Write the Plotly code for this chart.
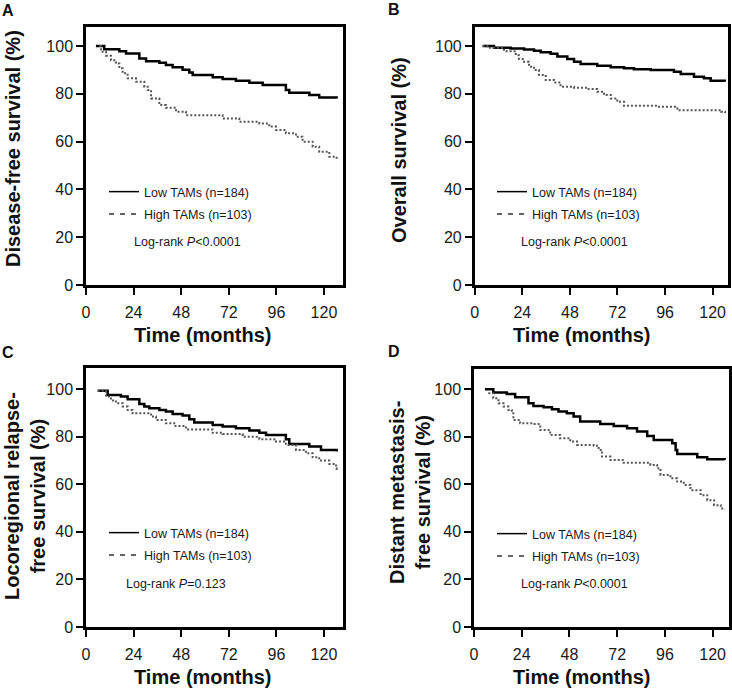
import plotly.graph_objects as go

# ---------------- data ----------------
x_ticks = [0, 24, 48, 72, 96, 120]
y_ticks = [0, 20, 40, 60, 80, 100]

low_label = "Low TAMs (n=184)"
high_label = "High TAMs (n=103)"

panel_letters = ["A", "B", "C", "D"]
y_titles = ["Disease-free survival (%)", "Overall survival (%)",
            "Locoregional relapse-<br>free survival (%)",
            "Distant metastasis-<br>free survival (%)"]
pvalues = ["Log-rank <i>P</i>&lt;0.0001", "Log-rank <i>P</i>&lt;0.0001",
           "Log-rank <i>P</i>=0.123", "Log-rank <i>P</i>&lt;0.0001"]

# Panel A: disease-free survival
a_low_t = [5.0, 9.2, 16.8, 20.2, 26.9, 30.3, 37.0, 40.3, 43.7, 48.7, 52.1, 53.8, 63.9, 68.9,
           75.6, 82.4, 89.1, 100.8, 102.5, 112.6, 117.6, 126.4]
a_low_s = [100, 98.7, 97.9, 96.9, 94.8, 93.7, 93.0, 92.1, 91.2, 90.1, 89.0, 87.9, 87.0, 86.2,
           85.5, 84.7, 83.7, 81.6, 80.5, 79.5, 78.5, 78.1]
a_high_t = [6.7, 7.6, 10.1, 12.6, 15.1, 16.8, 18.5, 21.0, 25.2, 29.4, 31.1, 32.8, 37.0, 40.3,
            45.4, 50.4, 68.9, 77.3, 87.4, 92.4, 95.8, 100.8, 105.9, 109.2, 114.3, 117.6,
            122.7, 126.4]
a_high_s = [100, 97.6, 96.0, 94.1, 92.7, 90.7, 88.6, 86.5, 85.1, 83.0, 81.6, 78.1, 75.3, 74.2,
            72.5, 71.1, 69.7, 68.3, 67.6, 66.3, 64.9, 63.5, 62.1, 60.0, 57.9, 55.8, 53.7, 52.7]

# Panel B: overall survival
b_low_t = [4.0, 9.7, 18.1, 24.9, 29.9, 33.3, 38.3, 41.7, 46.7, 50.1, 53.4, 61.8, 68.6, 75.3,
           80.3, 88.8, 100.5, 103.9, 110.6, 115.6, 119.0, 126.1]
b_low_s = [100, 99.3, 99.0, 98.6, 98.1, 97.4, 96.8, 95.6, 94.6, 93.5, 92.5, 91.8, 91.1, 90.7,
           90.3, 90.0, 89.3, 88.3, 87.2, 86.5, 85.5, 85.1]
b_high_t = [4.0, 6.4, 14.8, 20.7, 22.3, 24.9, 27.4, 29.9, 32.4, 35.8, 40.0, 43.3, 50.1, 56.8,
            61.8, 65.2, 68.6, 71.9, 75.3, 92.3, 102.2, 124.3, 126.3]
b_high_s = [100, 99.3, 97.9, 96.2, 94.6, 93.5, 91.4, 90.0, 87.9, 85.8, 84.8, 83.0, 82.6, 82.0,
            80.9, 79.5, 78.1, 76.7, 75.0, 74.6, 73.2, 72.5, 72.0]

# Panel C: locoregional relapse-free survival
c_low_t = [5.9, 10.9, 17.6, 21.0, 26.9, 29.4, 31.9, 37.0, 40.3, 43.7, 48.7, 52.1, 54.6, 63.9,
           68.9, 75.6, 82.4, 87.4, 90.8, 100.8, 102.5, 112.6, 118.5, 126.4]
c_low_s = [99.2, 97.5, 96.8, 95.7, 93.7, 92.6, 91.9, 91.2, 90.5, 89.5, 88.8, 87.3, 85.9, 84.9,
           84.2, 83.5, 82.5, 81.6, 80.7, 78.9, 76.9, 75.8, 74.4, 73.7]
c_high_t = [5.9, 10.1, 12.6, 15.1, 18.5, 21.0, 23.5, 32.8, 35.3, 40.3, 44.5, 50.4, 63.9, 68.9,
            79.0, 87.4, 95.8, 100.8, 105.9, 110.9, 114.3, 117.6, 122.7, 126.1, 126.4]
c_high_s = [99.2, 96.8, 95.1, 94.0, 92.6, 91.2, 89.8, 88.4, 87.0, 85.6, 84.4, 83.0, 81.6, 81.1,
            79.9, 78.9, 77.9, 76.5, 74.4, 73.0, 71.3, 69.9, 68.5, 66.7, 65.3]

# Panel D: distant metastasis-free survival
d_low_t = [5.5, 9.7, 16.5, 20.7, 27.4, 29.9, 35.0, 39.2, 42.5, 46.7, 50.1, 53.4, 63.5, 70.3,
           77.0, 82.0, 87.1, 90.4, 99.7, 101.4, 102.2, 112.3, 117.3, 126.1]
d_low_s = [99.9, 98.5, 97.9, 96.5, 94.0, 92.9, 92.3, 91.5, 90.5, 89.8, 88.4, 86.3, 85.3, 84.5,
           83.5, 82.1, 80.3, 78.6, 77.2, 74.4, 72.7, 71.3, 70.5, 70.3]
d_high_t = [7.2, 9.7, 12.3, 14.8, 17.3, 19.0, 19.8, 23.2, 29.9, 33.3, 38.3, 43.3, 48.4, 51.8,
            60.2, 62.7, 64.4, 68.6, 75.3, 88.7, 92.1, 93.8, 98.8, 102.2, 105.5, 108.9, 114.0,
            117.3, 120.7, 124.1, 126.1]
d_high_s = [98.2, 96.1, 94.0, 92.6, 91.2, 89.8, 87.0, 85.6, 85.3, 82.8, 80.7, 79.3, 77.9, 76.5,
            76.2, 74.4, 71.6, 70.2, 69.0, 68.1, 66.7, 63.9, 62.5, 61.1, 59.7, 57.5, 55.4, 53.3,
            51.2, 49.8, 49.5]

panels = [
    (a_low_t, a_low_s, a_high_t, a_high_s),
    (b_low_t, b_low_s, b_high_t, b_high_s),
    (c_low_t, c_low_s, c_high_t, c_high_s),
    (d_low_t, d_low_s, d_high_t, d_high_s),
]

# ---------------- layout geometry (pixels) ----------------
W, H = 732, 688
# (left, right, top, bottom) of each plot box, x-range max, y-range max
boxes = [(86, 343, 27, 285, 129.6, 108.0),
         (474.7, 727.7, 27, 285, 127.6, 108.0),
         (86, 343, 368, 627, 129.6, 108.8),
         (474, 728.5, 369, 627, 128.0, 108.4)]
# left edge (px) of the p-value text and legend text per panel
pval_left = [133, 520, 125, 520]
legend_text_left = [144, 532, 144, 532]

FONT = "Liberation Sans, Arial, Helvetica, sans-serif"

fig = go.Figure()
layout = dict(width=W, height=H, margin=dict(l=0, r=0, t=0, b=0, autoexpand=False),
              paper_bgcolor="white", plot_bgcolor="white",
              font=dict(family=FONT, color="#1a1a1a"), showlegend=True)
annotations = []

for i, ((lt, ls, ht, hs), (l, r, t, b, xmax, ymax)) in enumerate(zip(panels, boxes)):
    n = "" if i == 0 else str(i + 1)
    xa, ya = "x" + n, "y" + n
    lg = "legend" + n
    fig.add_trace(go.Scatter(x=lt, y=ls, mode="lines", line_shape="hv",
                             line=dict(color="black", width=2.5),
                             xaxis=xa, yaxis=ya, showlegend=False, hoverinfo="skip"))
    fig.add_trace(go.Scatter(x=ht, y=hs, mode="lines", line_shape="hv",
                             line=dict(color="#555555", width=2, dash="2px,2px"),
                             xaxis=xa, yaxis=ya, showlegend=False, hoverinfo="skip"))
    # legend-only entries
    fig.add_trace(go.Scatter(x=[None], y=[None], mode="lines", name=low_label,
                             line=dict(color="black", width=1.5), legendgroup="low",
                             xaxis=xa, yaxis=ya, legend=lg, showlegend=True))
    fig.add_trace(go.Scatter(x=[None], y=[None], mode="lines", name=high_label,
                             line=dict(color="#333333", width=1.5, dash="5px,6px"),
                             legendgroup="high",
                             xaxis=xa, yaxis=ya, legend=lg, showlegend=True))

    axis_common = dict(showline=True, linewidth=2.5, linecolor="black", mirror=True,
                       ticks="outside", ticklen=7, tickwidth=1.5, tickcolor="black",
                       showgrid=False, zeroline=False,
                       tickfont=dict(family=FONT, size=16, color="#1a1a1a"))
    layout["xaxis" + n] = dict(axis_common, domain=[l / W, r / W], range=[0, xmax],
                               tickvals=x_ticks, anchor=ya, ticklabelstandoff=4)
    layout["yaxis" + n] = dict(axis_common, domain=[1 - b / H, 1 - t / H], range=[0, ymax],
                               tickvals=y_ticks, anchor=xa)

    # legend placement
    leg_top = t + 150
    layout[lg] = dict(x=(legend_text_left[i] - 40) / W, y=1 - leg_top / H,
                      xanchor="left", yanchor="top",
                      bgcolor="rgba(0,0,0,0)", borderwidth=0,
                      font=dict(family=FONT, size=12.5, color="#1a1a1a"),
                      itemwidth=30, traceorder="grouped", tracegroupgap=3)

    # p-value
    annotations.append(dict(text=pvalues[i], xref="paper", yref=ya,
                            x=pval_left[i] / W, y=18.1, xanchor="left", yanchor="middle",
                            showarrow=False, borderpad=0,
                            font=dict(family=FONT, size=12.5, color="#1a1a1a")))

# axis titles & panel letters
xtitle_centers = [(203, 335), (581, 335), (203, 677), (581, 677)]
ytitle_centers = [(13, 149), (399, 150), (25, 496), (410, 492)]
letter_pos = [(8, 10), (394, 9), (8, 352), (394, 351)]
for i in range(4):
    cx, cy = xtitle_centers[i]
    annotations.append(dict(text="<b>Time (months)</b>", xref="paper", yref="paper",
                            x=cx / W, y=1 - cy / H, xanchor="center", yanchor="middle",
                            showarrow=False, font=dict(family=FONT, size=20, color="#111")))
    cx, cy = ytitle_centers[i]
    annotations.append(dict(text="<b>" + y_titles[i].replace("<br>", "</b><br><b>") + "</b>",
                            xref="paper", yref="paper", textangle=-90,
                            x=cx / W, y=1 - cy / H, xanchor="center", yanchor="middle",
                            showarrow=False, font=dict(family=FONT, size=20, color="#111")))
    cx, cy = letter_pos[i]
    annotations.append(dict(text="<b>" + panel_letters[i] + "</b>", xref="paper", yref="paper",
                            x=cx / W, y=1 - cy / H, xanchor="center", yanchor="middle",
                            showarrow=False, font=dict(family=FONT, size=16, color="#111")))

layout["annotations"] = annotations
fig.update_layout(**layout)
fig.write_html("out.html", config={"displayModeBar": False},
               post_script="document.body.style.margin='0';document.body.style.padding='0';")
